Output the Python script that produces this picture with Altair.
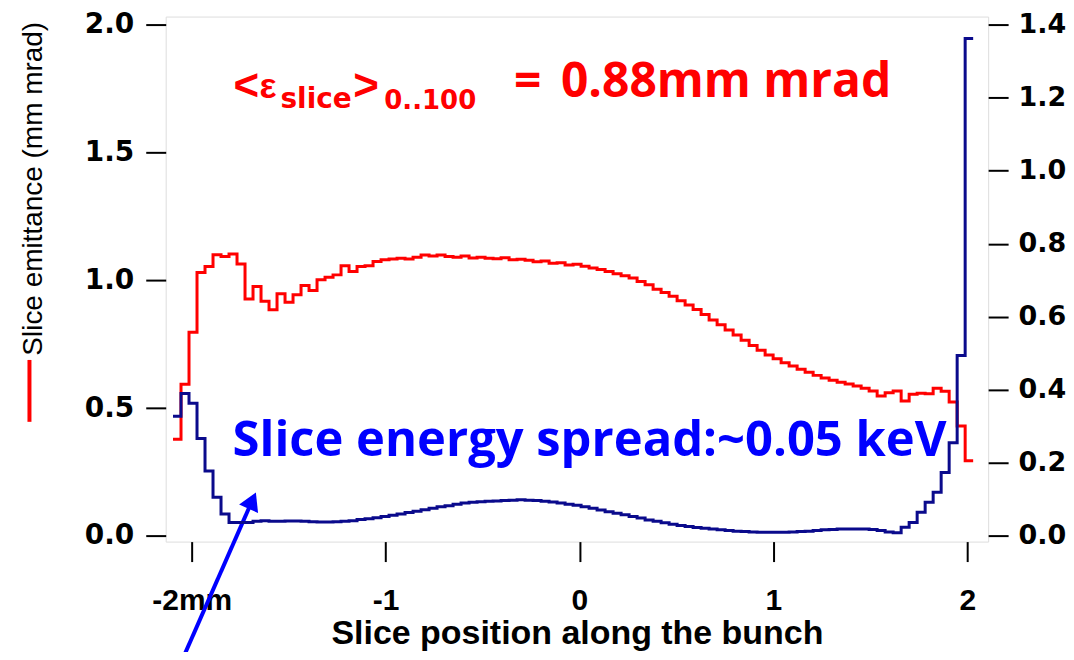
import json
import altair as alt
import numpy as np
import pandas as pd

# ---------------- data ----------------
BIN_START = -2.0963      # left edge of first slice (mm)
BIN_WIDTH = 0.04127      # slice width (mm)

# slice emittance, mm mrad (left axis)
red = [0.378, 0.593, 0.797, 1.030, 1.054, 1.100, 1.093, 1.103, 1.064, 0.927,
       0.976, 0.918, 0.885, 0.947, 0.914, 0.943, 0.979, 0.960, 1.002, 1.012,
       1.021, 1.057, 1.034, 1.054, 1.057, 1.073, 1.080, 1.083, 1.086, 1.083,
       1.090, 1.099, 1.095, 1.099, 1.093, 1.090, 1.095, 1.087, 1.090, 1.086,
       1.084, 1.088, 1.080, 1.082, 1.078, 1.072, 1.075, 1.066, 1.068, 1.060,
       1.063, 1.055, 1.048, 1.042, 1.034, 1.025, 1.018, 1.009, 0.995, 0.982,
       0.965, 0.952, 0.937, 0.920, 0.903, 0.886, 0.866, 0.845, 0.826, 0.805,
       0.786, 0.765, 0.745, 0.726, 0.708, 0.693, 0.677, 0.665, 0.652, 0.640,
       0.628, 0.618, 0.609, 0.601, 0.594, 0.586, 0.578, 0.567, 0.547, 0.560,
       0.567, 0.528, 0.554, 0.558, 0.556, 0.578, 0.566, 0.524, 0.430, 0.294]

# slice energy spread (right axis)
blue = [0.328, 0.390, 0.363, 0.267, 0.178, 0.106, 0.060, 0.037, 0.037, 0.037,
        0.040, 0.042, 0.040, 0.040, 0.041, 0.041, 0.040, 0.039, 0.038, 0.038,
        0.039, 0.040, 0.042, 0.045, 0.047, 0.050, 0.053, 0.057, 0.060, 0.064,
        0.068, 0.072, 0.076, 0.080, 0.083, 0.087, 0.090, 0.092, 0.094, 0.095,
        0.096, 0.097, 0.098, 0.099, 0.098, 0.097, 0.095, 0.093, 0.090, 0.087,
        0.084, 0.080, 0.076, 0.071, 0.066, 0.062, 0.058, 0.053, 0.049, 0.044,
        0.040, 0.036, 0.032, 0.029, 0.026, 0.023, 0.021, 0.019, 0.017, 0.015,
        0.013, 0.012, 0.011, 0.010, 0.010, 0.010, 0.010, 0.011, 0.012, 0.013,
        0.015, 0.017, 0.018, 0.019, 0.019, 0.019, 0.019, 0.018, 0.015, 0.011,
        0.009, 0.024, 0.037, 0.065, 0.092, 0.120, 0.174, 0.255, 0.494, 1.362]

x_ticks = [-2, -1, 0, 1, 2]
x_tick_labels = ["-2mm", "-1", "0", "1", "2"]
left_ticks = [0.0, 0.5, 1.0, 1.5, 2.0]
right_ticks = [0.0, 0.2, 0.4, 0.6, 0.8, 1.0, 1.2, 1.4]

X_DOMAIN = [-2.134, 2.108]
Y_LEFT_DOMAIN = [-0.022, 2.031]
Y_RIGHT_DOMAIN = [-0.0154, 1.4217]

x_title = "Slice position along the bunch"
y_title = "Slice emittance (mm mrad)"
spread_text = "Slice energy spread:~0.05 keV"

# ---------------- tables ----------------
edges = BIN_START + BIN_WIDTH * np.arange(len(red) + 1)
red_df = pd.DataFrame({"x": edges, "y": red + [red[-1]]})
blue_df = pd.DataFrame({"x": edges, "y": blue + [blue[-1]]})

label_map = json.dumps({str(v): l for v, l in zip(x_ticks, x_tick_labels)})
x_label_expr = f"{label_map}['' + datum.value]"

x_enc = alt.X(
    "x:Q",
    scale=alt.Scale(domain=X_DOMAIN, nice=False, zero=False),
    axis=alt.Axis(
        values=x_ticks, labelExpr=x_label_expr, tickSize=20, tickWidth=2,
        tickColor="black", domain=False, grid=False,
        labelFont="Liberation Sans", labelFontWeight="bold", labelFontSize=30,
        labelColor="black", labelPadding=24,
        title=x_title, titleFont="Liberation Sans", titleFontWeight="bold",
        titleFontSize=34, titleColor="black", titlePadding=1,
    ),
)

left_axis = alt.Axis(
    values=left_ticks, format=".1f", tickSize=20, tickWidth=2, tickColor="black",
    domain=False, grid=False, labelFont="DejaVu Sans", labelFontWeight="bold",
    labelFontSize=28, labelColor="black", labelPadding=12,
    title=y_title, titleFont="Liberation Sans", titleFontWeight="normal",
    titleFontSize=28, titleColor="black", titleAngle=270, titleX=-124, titleY=172,
    titleAlign="center", titleBaseline="alphabetic",
)

right_axis = alt.Axis(
    values=right_ticks, format=".1f", orient="right", tickSize=20, tickWidth=2,
    tickColor="black", domain=False, grid=False, labelFont="DejaVu Sans",
    labelFontWeight="bold", labelFontSize=27, labelColor="black", labelPadding=10,
    title=None,
)

red_line = alt.Chart(red_df).mark_line(
    interpolate="step-after", color="#ff0000", strokeWidth=3, strokeJoin="miter"
).encode(
    x=x_enc,
    y=alt.Y("y:Q", scale=alt.Scale(domain=Y_LEFT_DOMAIN, nice=False, zero=False), axis=left_axis),
)

blue_line = alt.Chart(blue_df).mark_line(
    interpolate="step-after", color="#0a0a8c", strokeWidth=3, strokeJoin="miter"
).encode(
    x=alt.X("x:Q", scale=alt.Scale(domain=X_DOMAIN, nice=False, zero=False)),
    y=alt.Y("y:Q", scale=alt.Scale(domain=Y_RIGHT_DOMAIN, nice=False, zero=False), axis=right_axis),
)

one = pd.DataFrame({"k": [0]})


def label(text, px, py, font, size, color, weight="bold"):
    return alt.Chart(one).mark_text(
        text=text, font=font, fontSize=size, fontWeight=weight, color=color,
        align="left", baseline="alphabetic",
    ).encode(x=alt.value(px), y=alt.value(py))


annotations = [
    label("<", 68, 84, "Liberation Sans", 44, "#ff0000"),
    label("ε", 94, 82, "Liberation Sans", 36, "#ff0000"),
    label("slice", 115, 92, "DejaVu Sans", 28, "#ff0000"),
    label(">", 188, 84, "Liberation Sans", 44, "#ff0000"),
    label("0..100", 219, 93, "DejaVu Sans", 26, "#ff0000"),
    label("=", 349, 81, "Open Sans", 48, "#ff0000"),
    label("0.88mm mrad", 396, 81, "Open Sans", 48, "#ff0000"),
    label(spread_text, 67, 440, "Open Sans", 49, "#0000ff"),
]

swatch = alt.Chart(one).mark_rule(color="#ff0000", strokeWidth=4).encode(
    x=alt.value(-136.5), y=alt.value(344), y2=alt.value(406)
)

arrow_shaft = alt.Chart(one).mark_rule(color="#0000ff", strokeWidth=4).encode(
    x=alt.value(8), y=alt.value(664), x2=alt.value(86.7), y2=alt.value(484.9)
)
arrow_head = alt.Chart(one).mark_point(
    shape="triangle-up", filled=True, size=430, angle=24, color="#0000ff", opacity=1
).encode(x=alt.value(86.7), y=alt.value(484.9))

left_group = alt.layer(red_line, swatch, arrow_shaft, arrow_head, *annotations)

chart = alt.layer(left_group, blue_line).resolve_scale(y="independent").properties(
    width=824, height=526,
    padding={"left": 158, "top": 8, "right": 78, "bottom": 110},
    autosize=alt.AutoSizeParams(type="none"),
).configure_view(stroke="black", strokeWidth=2).configure(background="white")

chart.save("out.html", embed_options={"renderer": "svg", "actions": False})
